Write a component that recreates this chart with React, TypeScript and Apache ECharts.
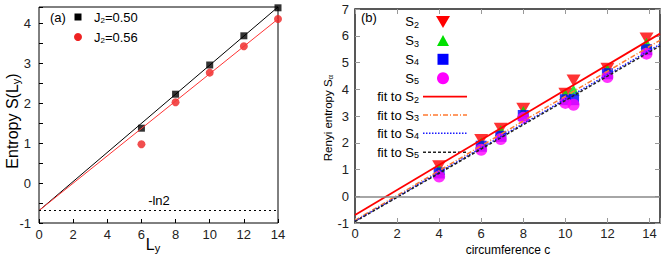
import React, { useEffect, useRef } from "react";
import * as echarts from "echarts";

// Panel (a)
const Ly = [6, 8, 10, 12, 14];
const S050 = [1.37, 2.22, 2.95, 3.68, 4.38];
const S056 = [0.97, 2.02, 2.76, 3.42, 4.1];
const fitLy = [0, 14];
const fit050 = [-0.69, 4.4];
const fit056 = [-0.69, 4.1];
const ln2Level = -Math.LN2;

// Panel (b)
const circ = [4, 6, 6.93, 8, 10, 10.39, 12, 13.86];
const S2 = [1.12, 2.1, 2.52, 3.27, 3.83, 4.33, 4.77, 5.9];
const S3 = [1.0, 1.99, 2.45, 3.17, 3.8, 3.96, 4.73, 5.72];
const S4 = [0.87, 1.87, 2.24, 3.02, 3.61, 3.61, 4.58, 5.48];
const S5 = [0.74, 1.74, 2.14, 2.93, 3.49, 3.42, 4.46, 5.33];
const fitC = [0, 14.5];
const fitS2 = [-0.7, 6.08];
const fitS3 = [-0.9, 5.83];
const fitS4 = [-0.93, 5.68];
const fitS5 = [-0.95, 5.62];

const FONT = "'Liberation Sans', Arial, Helvetica, sans-serif";

const pts = (xs: number[], ys: number[]) => xs.map((x, i) => [x, ys[i]]);

const subRich = (size: number, sub: number, drop: number) => ({
  n: { fontSize: size, fontFamily: FONT, color: "#000" },
  s: { fontSize: sub, fontFamily: FONT, color: "#000", padding: [drop, 0, 0, 0] },
});

export default function App() {
  const ref = useRef<HTMLDivElement>(null);
  useEffect(() => {
    if (!ref.current) return;
    const chart = echarts.init(ref.current, undefined, { renderer: "svg" });
    const intLabel = (v: number) => (Number.isInteger(v) ? String(v) : "");
    const evenLabel = (v: number) => (Number.isInteger(v) && v % 2 === 0 ? String(v) : "");
    const option: any = {
      animation: false,
      backgroundColor: "#fff",
      textStyle: { fontFamily: FONT },
      grid: [
        { left: 39, right: 386, top: 7, bottom: 37, show: true, borderColor: "#000", borderWidth: 1, backgroundColor: "transparent" },
        { left: 355, right: 4, top: 9, bottom: 37, show: true, borderColor: "#222", borderWidth: 1.5, backgroundColor: "transparent" },
      ],
      xAxis: [
        {
          gridIndex: 0, type: "value", min: 0, max: 14, interval: 2,
          axisLine: { show: false, onZero: false },
          axisTick: { inside: true, length: 4, lineStyle: { color: "#000" } },
          axisLabel: { fontSize: 13, color: "#222", margin: 5, fontFamily: FONT },
          splitLine: { show: false },
        },
        {
          gridIndex: 1, type: "value", min: 0, max: 14.5, interval: 2,
          axisLine: { show: false, onZero: false },
          axisTick: { inside: true, length: 5, lineStyle: { color: "#999" } },
          axisLabel: { fontSize: 13, color: "#222", margin: 4, fontFamily: FONT, formatter: evenLabel },
          splitLine: { show: false },
        },
        {
          gridIndex: 1, type: "value", min: 0, max: 14.5, interval: 2, position: "top",
          axisLine: { show: false, onZero: false },
          axisTick: { inside: true, length: 5, lineStyle: { color: "#999" } },
          axisLabel: { show: false },
          splitLine: { show: false },
        },
      ],
      yAxis: [
        {
          gridIndex: 0, type: "value", min: -1, max: 4.4, interval: 0.5,
          axisLine: { show: false, onZero: false },
          axisTick: { inside: true, length: 4, lineStyle: { color: "#000" } },
          axisLabel: { fontSize: 13, color: "#222", margin: 8, fontFamily: FONT, formatter: intLabel },
          splitLine: { show: false },
        },
        {
          gridIndex: 1, type: "value", min: -1, max: 7, interval: 1,
          axisLine: { show: false, onZero: false },
          axisTick: { inside: true, length: 5, lineStyle: { color: "#999" } },
          axisLabel: { fontSize: 13, color: "#222", margin: 6, fontFamily: FONT },
          splitLine: { show: false },
        },
        {
          gridIndex: 1, type: "value", min: -1, max: 7, interval: 1, position: "right",
          axisLine: { show: false, onZero: false },
          axisTick: { inside: true, length: 5, lineStyle: { color: "#999" } },
          axisLabel: { show: false },
          splitLine: { show: false },
        },
      ],
      series: [
        {
          type: "line", xAxisIndex: 0, yAxisIndex: 0, data: pts(fitLy, fit050), symbol: "none",
          lineStyle: { color: "#000", width: 1 }, silent: true,
          markLine: {
            silent: true, symbol: ["none", "none"], label: { show: false },
            lineStyle: { color: "#000", width: 1, type: [2, 3] },
            data: [{ yAxis: ln2Level }],
          },
        },
        {
          type: "line", xAxisIndex: 0, yAxisIndex: 0, data: pts(fitLy, fit056), symbol: "none",
          lineStyle: { color: "#ff3333", width: 1 }, silent: true,
        },
        {
          type: "scatter", xAxisIndex: 0, yAxisIndex: 0, data: pts(Ly, S050),
          symbol: "rect", symbolSize: 7, itemStyle: { color: "#000" },
        },
        {
          type: "scatter", xAxisIndex: 0, yAxisIndex: 0, data: pts(Ly, S056),
          symbol: "circle", symbolSize: 8, itemStyle: { color: "#ee2222" },
        },
        {
          type: "scatter", xAxisIndex: 1, yAxisIndex: 1, data: pts(circ, S2),
          symbol: "triangle", symbolRotate: 180, symbolSize: [14, 12], itemStyle: { color: "#ff0000" },
        },
        {
          type: "scatter", xAxisIndex: 1, yAxisIndex: 1, data: pts(circ, S3),
          symbol: "triangle", symbolSize: [12, 11], itemStyle: { color: "#00e000" },
        },
        {
          type: "scatter", xAxisIndex: 1, yAxisIndex: 1, data: pts(circ, S4),
          symbol: "rect", symbolSize: 11, itemStyle: { color: "#0000ff" },
        },
        {
          type: "scatter", xAxisIndex: 1, yAxisIndex: 1, data: pts(circ, S5),
          symbol: "circle", symbolSize: 12, itemStyle: { color: "#ff00ff" },
        },
        {
          type: "line", xAxisIndex: 1, yAxisIndex: 1, data: pts(fitC, fitS2), symbol: "none",
          lineStyle: { color: "#ff0000", width: 1.8 }, silent: true,
          markLine: {
            silent: true, symbol: ["none", "none"], label: { show: false },
            lineStyle: { color: "#888", width: 1.5, type: "solid" },
            data: [{ yAxis: 0 }],
          },
        },
        {
          type: "line", xAxisIndex: 1, yAxisIndex: 1, data: pts(fitC, fitS3), symbol: "none",
          lineStyle: { color: "#ff7a30", width: 1.5, type: [5, 2, 1, 2] }, silent: true,
        },
        {
          type: "line", xAxisIndex: 1, yAxisIndex: 1, data: pts(fitC, fitS4), symbol: "none",
          lineStyle: { color: "#1a1aff", width: 1.5, type: [1.5, 1.5] }, silent: true,
        },
        {
          type: "line", xAxisIndex: 1, yAxisIndex: 1, data: pts(fitC, fitS5), symbol: "none",
          lineStyle: { color: "#222", width: 1.5, type: [3, 2] }, silent: true,
        },
      ],
      graphic: [
        // panel (a) labels
        { type: "text", x: 12, y: 121, rotation: Math.PI / 2, style: { text: "{n|Entropy S(L}{s|y}{n|)}", rich: subRich(16, 11, 8), align: "center", verticalAlign: "middle" } },
        { type: "text", x: 153, y: 244, style: { text: "{n|L}{s|y}", rich: subRich(16, 11, 8), align: "center", verticalAlign: "middle" } },
        { type: "text", x: 159, y: 200, style: { text: "-ln2", font: `13px ${FONT}`, fill: "#000", align: "center", verticalAlign: "middle" } },
        { type: "text", x: 50, y: 17, style: { text: "(a)", font: `13px ${FONT}`, fill: "#000", align: "left", verticalAlign: "middle" } },
        { type: "rect", shape: { x: 74.5, y: 13.5, width: 7, height: 7 }, style: { fill: "#000" } },
        { type: "text", x: 94, y: 17, style: { text: "{n|J}{s|2}{n|=0.50}", rich: subRich(13, 8, 6), align: "left", verticalAlign: "middle" } },
        { type: "circle", shape: { cx: 78, cy: 37, r: 4 }, style: { fill: "#ee2222" } },
        { type: "text", x: 94, y: 37, style: { text: "{n|J}{s|2}{n|=0.56}", rich: subRich(13, 8, 6), align: "left", verticalAlign: "middle" } },
        // panel (b) labels
        { type: "text", x: 328, y: 118, rotation: Math.PI / 2, style: { text: "{n|Renyi entropy S}{s|α}", rich: subRich(11.5, 8, 5), align: "center", verticalAlign: "middle" } },
        { type: "text", x: 508, y: 250, style: { text: "circumference c", font: `12px ${FONT}`, fill: "#000", align: "center", verticalAlign: "middle" } },
        { type: "text", x: 361, y: 17, style: { text: "(b)", font: `13px ${FONT}`, fill: "#000", align: "left", verticalAlign: "middle" } },
        { type: "text", x: 419, y: 21.7, style: { text: "{n|S}{s|2}", rich: subRich(13, 9, 6), align: "right", verticalAlign: "middle" } },
        { type: "text", x: 419, y: 40.7, style: { text: "{n|S}{s|3}", rich: subRich(13, 9, 6), align: "right", verticalAlign: "middle" } },
        { type: "text", x: 419, y: 59.3, style: { text: "{n|S}{s|4}", rich: subRich(13, 9, 6), align: "right", verticalAlign: "middle" } },
        { type: "text", x: 419, y: 78.3, style: { text: "{n|S}{s|5}", rich: subRich(13, 9, 6), align: "right", verticalAlign: "middle" } },
        { type: "text", x: 419, y: 96.7, style: { text: "{n|fit to S}{s|2}", rich: subRich(13, 9, 6), align: "right", verticalAlign: "middle" } },
        { type: "text", x: 419, y: 115, style: { text: "{n|fit to S}{s|3}", rich: subRich(13, 9, 6), align: "right", verticalAlign: "middle" } },
        { type: "text", x: 419, y: 133.3, style: { text: "{n|fit to S}{s|4}", rich: subRich(13, 9, 6), align: "right", verticalAlign: "middle" } },
        { type: "text", x: 419, y: 152.3, style: { text: "{n|fit to S}{s|5}", rich: subRich(13, 9, 6), align: "right", verticalAlign: "middle" } },
        { type: "polygon", shape: { points: [[436, 16], [450, 16], [443, 28]] }, style: { fill: "#ff0000" } },
        { type: "polygon", shape: { points: [[437, 46], [449, 46], [443, 35]] }, style: { fill: "#00e000" } },
        { type: "rect", shape: { x: 437.5, y: 53.8, width: 11, height: 11 }, style: { fill: "#0000ff" } },
        { type: "circle", shape: { cx: 443, cy: 78.3, r: 6 }, style: { fill: "#ff00ff" } },
        { type: "line", shape: { x1: 423, y1: 96.7, x2: 467, y2: 96.7 }, style: { stroke: "#ff0000", lineWidth: 1.8 } },
        { type: "line", shape: { x1: 423, y1: 115, x2: 467, y2: 115 }, style: { stroke: "#ff7a30", lineWidth: 1.5, lineDash: [5, 2, 1, 2] } },
        { type: "line", shape: { x1: 423, y1: 133.3, x2: 467, y2: 133.3 }, style: { stroke: "#1a1aff", lineWidth: 1.5, lineDash: [1.5, 1.5] } },
        { type: "line", shape: { x1: 423, y1: 152.3, x2: 467, y2: 152.3 }, style: { stroke: "#222", lineWidth: 1.5, lineDash: [3, 2] } },
      ],
    };
    chart.setOption(option);
    return () => chart.dispose();
  }, []);
  return <div ref={ref} style={{ position: "fixed", left: 0, top: 0, width: 664, height: 260 }} />;
}
